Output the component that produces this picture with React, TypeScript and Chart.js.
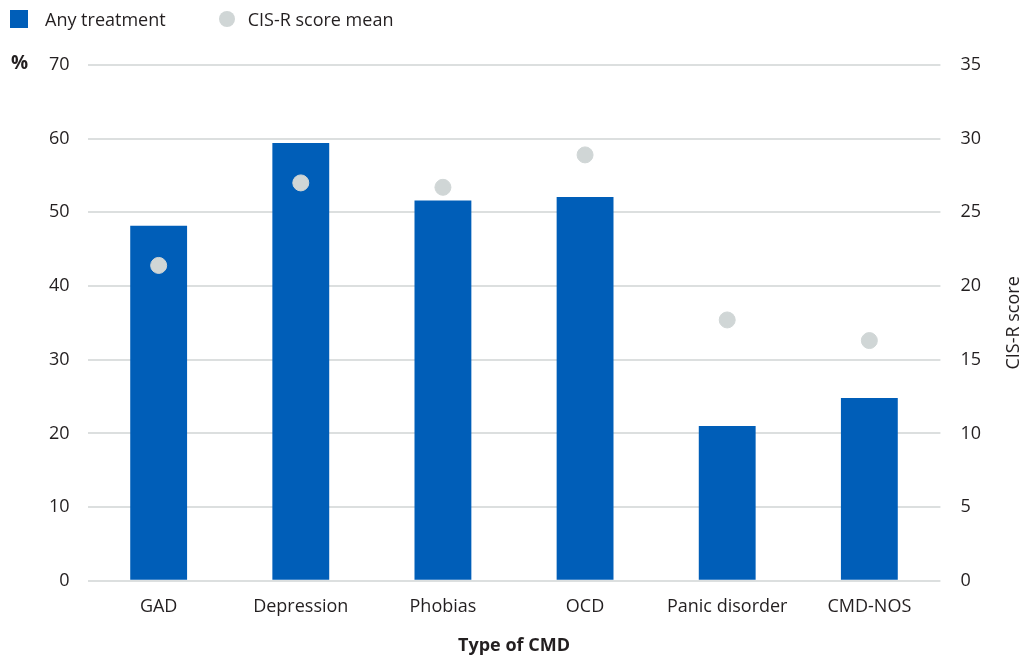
import React, { useEffect, useRef } from "react";
import { Chart, registerables } from "chart.js";

Chart.register(...registerables);

const categories = ["GAD", "Depression", "Phobias", "OCD", "Panic disorder", "CMD-NOS"];
const anyTreatment = [48.2, 59.4, 51.6, 52.1, 21.0, 24.8];
const cisrMean = [21.4, 27.0, 26.7, 28.9, 17.7, 16.3];
const leftTicks = [0, 10, 20, 30, 40, 50, 60, 70];
const rightTicks = [0, 5, 10, 15, 20, 25, 30, 35];
const leftUnit = "%";
const rightTitle = "CIS-R score";

const FONT = "'Open Sans', 'Noto Sans', sans-serif";
const BLUE = "#005EB8";
const GREY = "#D0D6D6";
const TEXT = "#231F20";

const extraTextPlugin = {
  id: "extraText",
  afterDraw(chart: any) {
    const ctx = chart.ctx;
    const area = chart.chartArea;
    const y = chart.scales.y.getPixelForValue(70);
    ctx.save();
    ctx.font = `bold 19px ${FONT}`;
    ctx.fillStyle = TEXT;
    ctx.textAlign = "left";
    ctx.textBaseline = "middle";
    ctx.fillText(leftUnit, 11, y - 1);
    ctx.font = `18px ${FONT}`;
    ctx.translate(1014, (area.top + area.bottom) / 2);
    ctx.rotate(-Math.PI / 2);
    ctx.textAlign = "center";
    ctx.fillText(rightTitle, 0, 0);
    ctx.restore();
  },
};

export default function App() {
  const ref = useRef<HTMLCanvasElement | null>(null);
  useEffect(() => {
    if (!ref.current) return;
    const chart = new Chart(ref.current, {
      type: "bar",
      data: {
        labels: categories,
        datasets: [
          {
            type: "scatter" as any,
            label: "CIS-R score mean",
            data: cisrMean as any,
            yAxisID: "y1",
            backgroundColor: GREY,
            borderColor: GREY,
            pointRadius: 8,
            pointHoverRadius: 8,
            order: 0,
          },
          {
            type: "bar",
            label: "Any treatment",
            data: anyTreatment,
            yAxisID: "y",
            backgroundColor: BLUE,
            barPercentage: 0.4,
            categoryPercentage: 1,
            order: 1,
          },
        ],
      },
      options: {
        animation: false,
        responsive: true,
        maintainAspectRatio: false,
        layout: { padding: { top: 65, left: 31, right: 22, bottom: 0 } },
        plugins: {
          legend: { display: false },
          tooltip: { enabled: false },
        },
        scales: {
          x: {
            type: "category",
            grid: { display: false, drawTicks: false },
            border: { display: false },
            ticks: { color: TEXT, font: { family: FONT, size: 18 }, padding: 15 },
            title: {
              display: true,
              text: "Type of CMD",
              color: TEXT,
              font: { family: FONT, size: 18, weight: "bold" },
              padding: { top: 3, bottom: 0 },
            },
          },
          y: {
            position: "left",
            min: 0,
            max: 70,
            afterBuildTicks: (axis: any) => {
              axis.ticks = leftTicks.map((v) => ({ value: v }));
            },
            grid: { color: "#DCDFDF", lineWidth: 2, drawTicks: false },
            border: { display: false },
            ticks: { color: TEXT, font: { family: FONT, size: 18 }, padding: 18 },
          },
          y1: {
            position: "right",
            min: 0,
            max: 35,
            afterBuildTicks: (axis: any) => {
              axis.ticks = rightTicks.map((v) => ({ value: v }));
            },
            grid: { display: false, drawTicks: false },
            border: { display: false },
            ticks: { color: TEXT, font: { family: FONT, size: 18 }, padding: 20 },
          },
        },
      },
      plugins: [extraTextPlugin],
    });
    return () => chart.destroy();
  }, []);

  return (
    <div style={{ position: "fixed", left: 0, top: 0, width: 1023, height: 657, background: "#fff" }}>
      <canvas ref={ref} />
      <div
        style={{
          position: "absolute",
          left: 10,
          top: 4,
          display: "flex",
          alignItems: "center",
          fontFamily: FONT,
          fontSize: 18,
          color: TEXT,
          height: 30,
        }}
      >
        <span style={{ display: "inline-block", width: 18, height: 18, background: BLUE }} />
        <span style={{ marginLeft: 17 }}>Any treatment</span>
        <span
          style={{ display: "inline-block", width: 16, height: 16, borderRadius: 8, background: GREY, marginLeft: 53 }}
        />
        <span style={{ marginLeft: 13 }}>CIS-R score mean</span>
      </div>
    </div>
  );
}
